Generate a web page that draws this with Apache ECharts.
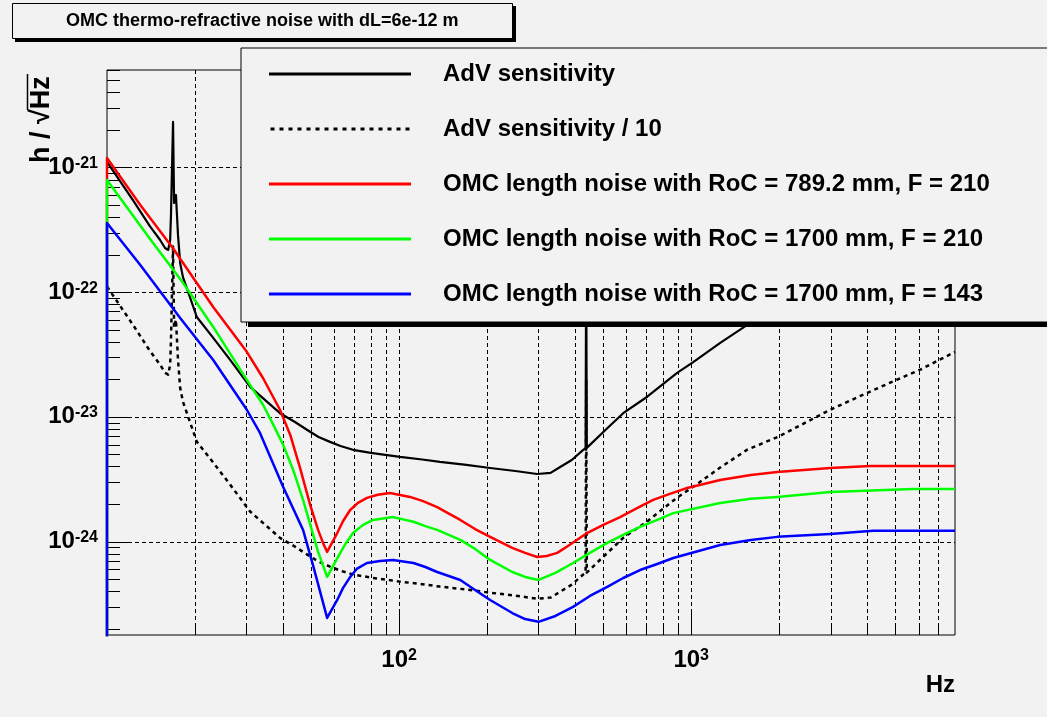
<!DOCTYPE html>
<html><head><meta charset="utf-8">
<script src="https://cdn.jsdelivr.net/npm/echarts@6/dist/echarts.min.js"></script>
<style>html,body{margin:0;padding:0;background:#f2f2f2;} #c{width:1047px;height:717px;}</style>
</head><body><div id="c"></div>
<script>
const FONT = '"Liberation Sans", Arial, Helvetica, sans-serif';
const X_MIN = 10, X_MAX = 8000;
const Y_MIN = 1.78e-25, Y_MAX = 6.05e-21;

// AdV sensitivity (solid) and AdV sensitivity / 10 (dotted)
const sensFreq = [10, 12.3, 14.0, 15.2, 15.8, 16.2, 16.45, 16.56, 16.68, 16.83, 16.97, 17.22, 17.5, 17.8, 18.2, 20.3, 23.1, 26.4, 30.9, 39.1, 44, 48.5, 53, 58.0, 63, 69.5, 80, 100.7, 120, 138, 170, 205, 250, 297, 330, 356, 390, 427, 435, 437, 439, 516, 585, 707, 895, 1016, 1257, 1556, 1987, 2992, 4008, 5073, 6082, 8000];
const sensVals = [1.11e-21, 5.43e-22, 3.40e-22, 2.62e-22, 2.26e-22, 2.18e-22, 2.62e-22, 4.16e-22, 4.16e-22, 2.32e-21, 5.2e-22, 6.02e-22, 2.88e-22, 1.71e-22, 1.32e-22, 6.32e-23, 4.30e-23, 2.86e-23, 1.74e-23, 1.07e-23, 9.1e-24, 7.85e-24, 6.9e-24, 6.30e-24, 5.84e-24, 5.44e-24, 5.14e-24, 4.77e-24, 4.55e-24, 4.35e-24, 4.12e-24, 3.89e-24, 3.68e-24, 3.48e-24, 3.55e-24, 3.96e-24, 4.51e-24, 5.44e-24, 5.6e-24, 2.0e-22, 5.64e-24, 8.1e-24, 1.07e-23, 1.45e-23, 2.25e-23, 2.75e-23, 3.92e-23, 5.46e-23, 6.93e-23, 1.14e-22, 1.56e-22, 1.99e-22, 2.39e-22, 3.32e-22];
const sens10Vals = [1.11e-22, 5.43e-23, 3.40e-23, 2.62e-23, 2.26e-23, 2.18e-23, 2.62e-23, 4.16e-23, 4.16e-23, 2.32e-22, 5.2e-23, 6.02e-23, 2.88e-23, 1.71e-23, 1.32e-23, 6.32e-24, 4.30e-24, 2.86e-24, 1.74e-24, 1.07e-24, 9.1e-25, 7.85e-25, 6.9e-25, 6.30e-25, 5.84e-25, 5.44e-25, 5.14e-25, 4.77e-25, 4.55e-25, 4.35e-25, 4.12e-25, 3.89e-25, 3.68e-25, 3.48e-25, 3.55e-25, 3.96e-25, 4.51e-25, 5.44e-25, 5.6e-25, 2.0e-23, 5.64e-25, 8.1e-25, 1.07e-24, 1.45e-24, 2.25e-24, 2.75e-24, 3.92e-24, 5.46e-24, 6.93e-24, 1.14e-23, 1.56e-23, 1.99e-23, 2.39e-23, 3.32e-23];

// OMC length noise, RoC = 789.2 mm, F = 210
const redFreq = [10, 10, 13, 16.8, 23.1, 30.1, 34.2, 39.1, 42.4, 45.8, 49.6, 52.8, 54.9, 56.7, 61.4, 64.3, 68, 72.3, 77.6, 84.5, 93.1, 109, 120.8, 135, 147, 162, 182, 205, 244, 270, 297, 320, 348, 383, 440, 500, 571, 655, 741, 845, 969, 1257, 1600, 1971, 2992, 4102, 8000];
const redVals = [1e-26, 1.19e-21, 5.0e-22, 2.26e-22, 7.61e-23, 3.32e-23, 2.05e-23, 1.14e-23, 7.16e-24, 3.89e-24, 1.97e-24, 1.24e-24, 9.75e-25, 8.26e-25, 1.17e-24, 1.46e-24, 1.79e-24, 2.04e-24, 2.24e-24, 2.37e-24, 2.45e-24, 2.28e-24, 2.11e-24, 1.89e-24, 1.69e-24, 1.49e-24, 1.26e-24, 1.09e-24, 8.89e-25, 8.11e-25, 7.52e-25, 7.66e-25, 8.11e-25, 9.39e-25, 1.17e-24, 1.36e-24, 1.57e-24, 1.86e-24, 2.16e-24, 2.41e-24, 2.69e-24, 3.12e-24, 3.42e-24, 3.61e-24, 3.89e-24, 4.04e-24, 4.04e-24];

// OMC length noise, RoC = 1700 mm, F = 210
const greenFreq = [10, 10, 14.0, 18.2, 23.1, 30.1, 34.2, 37.0, 40.1, 43.4, 46.9, 49.6, 52.8, 56.7, 61.8, 65.5, 69.5, 75.3, 81.4, 95.3, 112, 123, 135, 162, 182, 205, 244, 270, 300, 343, 394, 450, 516, 585, 668, 765, 868, 1257, 1600, 1971, 2992, 5754, 8000];
const greenVals = [1e-26, 7.94e-22, 2.69e-22, 1.19e-22, 5.26e-23, 1.98e-23, 1.25e-23, 8.75e-24, 5.96e-24, 3.75e-24, 2.16e-24, 1.38e-24, 8.26e-25, 5.20e-25, 7.52e-25, 9.57e-25, 1.17e-24, 1.36e-24, 1.49e-24, 1.57e-24, 1.44e-24, 1.33e-24, 1.24e-24, 1.03e-24, 8.73e-25, 7.12e-25, 5.70e-25, 5.20e-25, 4.92e-25, 5.60e-25, 6.73e-25, 8.11e-25, 9.75e-25, 1.13e-24, 1.31e-24, 1.49e-24, 1.69e-24, 2.04e-24, 2.20e-24, 2.28e-24, 2.50e-24, 2.64e-24, 2.64e-24];

// OMC length noise, RoC = 1700 mm, F = 143
const blueFreq = [10, 10, 13.0, 17.8, 23.1, 30.1, 33.4, 40.1, 46.9, 50.7, 56.7, 61.4, 64.3, 68.0, 71.6, 77.6, 86, 95.3, 112, 123, 135, 162, 182, 205, 244, 270, 300, 343, 394, 450, 516, 585, 668, 765, 868, 1257, 1600, 1971, 2992, 4198, 8000];
const blueVals = [1e-26, 3.59e-22, 1.65e-22, 6.21e-23, 2.86e-23, 1.14e-23, 7.43e-24, 2.74e-24, 1.24e-24, 6.49e-25, 2.44e-25, 3.40e-25, 4.25e-25, 5.20e-25, 6.03e-25, 6.73e-25, 6.98e-25, 7.12e-25, 6.73e-25, 6.25e-25, 5.70e-25, 4.92e-25, 4.09e-25, 3.40e-25, 2.67e-25, 2.39e-25, 2.27e-25, 2.53e-25, 2.99e-25, 3.66e-25, 4.33e-25, 5.10e-25, 5.91e-25, 6.61e-25, 7.38e-25, 9.39e-25, 1.03e-24, 1.09e-24, 1.15e-24, 1.22e-24, 1.22e-24];

// ticks and grid
const xGridValues = [20, 30, 40, 50, 60, 70, 80, 90, 100, 200, 300, 400, 500, 600, 700, 800, 900, 1000, 2000, 3000, 4000, 5000, 6000, 7000];
const yGridValues = [1e-24, 1e-23, 1e-22, 1e-21];
const xMajorTicks = [100, 1000];
const xMinorTicks = [20, 30, 40, 50, 60, 70, 80, 90, 200, 300, 400, 500, 600, 700, 800, 900, 2000, 3000, 4000, 5000, 6000, 7000];
const yMajorTicks = [1e-24, 1e-23, 1e-22, 1e-21];
const yMinorTicks = [2e-25, 3e-25, 4e-25, 5e-25, 6e-25, 7e-25, 8e-25, 9e-25, 2e-24, 3e-24, 4e-24, 5e-24, 6e-24, 7e-24, 8e-24, 9e-24, 2e-23, 3e-23, 4e-23, 5e-23, 6e-23, 7e-23, 8e-23, 9e-23, 2e-22, 3e-22, 4e-22, 5e-22, 6e-22, 7e-22, 8e-22, 9e-22, 2e-21, 3e-21, 4e-21, 5e-21, 6e-21];
const xLabelExps = [2, 3];
const yLabelExps = [-24, -23, -22, -21];

const names = ['AdV sensitivity', 'AdV sensitivity / 10', 'OMC length noise with RoC = 789.2 mm, F = 210', 'OMC length noise with RoC = 1700 mm, F = 210', 'OMC length noise with RoC = 1700 mm, F = 143'];

function pairs(f, v) { return f.map((x, i) => [x, v[i]]); }
function decLabel(v, allowed) {
  const l = Math.log10(v); const e = Math.round(l);
  if (Math.abs(l - e) > 1e-6 || allowed.indexOf(e) < 0) return '';
  return '{b|10}{s|' + e + '}';
}
const rich = {
  b: { fontFamily: FONT, fontSize: 24, fontWeight: 'bold', color: '#000', lineHeight: 24, padding: [6, 0, 0, 0], verticalAlign: 'bottom' },
  s: { fontFamily: FONT, fontSize: 16, fontWeight: 'bold', color: '#000', lineHeight: 16, verticalAlign: 'top' }
};
function dashIcon(total, dash, gap, h) {
  let p = '';
  for (let x = 0; x + dash <= total; x += dash + gap) p += 'M' + x + ',0h' + dash + 'v' + h + 'h-' + dash + 'z';
  return 'path://' + p;
}

function vLine(dash, len) {
  return function (params, api) {
    const cs = params.coordSys;
    const x = Math.round(api.coord([api.value(0), api.value(1)])[0]) + 0.5;
    const y2 = cs.y + cs.height;
    const y1 = len ? y2 - len : cs.y;
    return { type: 'line', silent: true, shape: { x1: x, y1: y1, x2: x, y2: y2 }, style: { stroke: '#000', lineWidth: 1, lineDash: dash } };
  };
}
function hLine(dash, len) {
  return function (params, api) {
    const cs = params.coordSys;
    const y = Math.round(api.coord([api.value(0), api.value(1)])[1]) + 0.5;
    const x1 = cs.x;
    const x2 = len ? cs.x + len : cs.x + cs.width;
    return { type: 'line', silent: true, shape: { x1: x1, y1: y, x2: x2, y2: y }, style: { stroke: '#000', lineWidth: 1, lineDash: dash } };
  };
}
function custom(name, data, fn) {
  return { name: name, type: 'custom', coordinateSystem: 'cartesian2d', data: data, renderItem: fn, z: 1, silent: true, animation: false };
}
function lineSeries(name, data, color, width, type) {
  return { name: name, type: 'line', data: data, symbol: 'none', showSymbol: false, z: 2,
    lineStyle: { color: color, width: width, type: type || 'solid', join: 'round' }, itemStyle: { color: color } };
}

const chart = echarts.init(document.getElementById('c'), null, { renderer: 'canvas' });
chart.setOption({
  backgroundColor: '#f2f2f2',
  animation: false,
  title: {
    text: 'OMC thermo-refractive noise with dL=6e-12 m',
    left: 12, top: 3, padding: [8, 54, 8, 54],
    backgroundColor: '#f2f2f2', borderColor: '#000', borderWidth: 1,
    textStyle: { fontFamily: FONT, fontSize: 18, fontWeight: 'bold', color: '#000', lineHeight: 20 }
  },
  legend: {
    data: names.map((n, i) => ({ name: n, icon: i === 1 ? dashIcon(142, 4, 5, 3) : 'rect' })),
    orient: 'vertical', left: 241, top: 48,
    itemWidth: 142, itemHeight: 3, itemGap: 31,
    padding: [14, 120, 16, 28],
    backgroundColor: '#f2f2f2', borderColor: '#000', borderWidth: 1,
    selectedMode: false,
    textStyle: { fontFamily: FONT, fontSize: 24, fontWeight: 'bold', color: '#000', lineHeight: 24, padding: [0, 0, 0, 27] }
  },
  grid: { left: 107, right: 92, top: 70, bottom: 82, show: true, borderColor: '#000', borderWidth: 1,
    backgroundColor: 'transparent', containLabel: false, outerBoundsMode: 'none' },
  xAxis: {
    type: 'log', logBase: 10, min: X_MIN, max: X_MAX,
    axisLine: { show: false }, axisTick: { show: false }, splitLine: { show: false },
    axisLabel: { margin: 13, formatter: v => decLabel(v, xLabelExps), rich: rich },
    name: 'Hz', nameLocation: 'end', nameGap: 0,
    nameTextStyle: { fontFamily: FONT, fontSize: 24, fontWeight: 'bold', color: '#000', align: 'right', verticalAlign: 'top', padding: [38, 0, 0, 0] }
  },
  yAxis: {
    type: 'log', logBase: 10, min: Y_MIN, max: Y_MAX,
    axisLine: { show: false }, axisTick: { show: false }, splitLine: { show: false },
    axisLabel: { margin: 9, formatter: v => decLabel(v, yLabelExps), rich: rich }
  },
  graphic: [
    { type: 'rect', z: 3, silent: true, shape: { x: 248, y: 53, width: 900, height: 274 }, style: { fill: '#000' } },
    { type: 'rect', z: 5, silent: true, shape: { x: 15, y: 6, width: 501, height: 36 }, style: { fill: '#000' } },
    { type: 'text', x: 42, y: 163, rotation: Math.PI / 2, silent: true,
      style: { text: 'h / \u221AHz', fontFamily: FONT, fontSize: 27, fontWeight: 'bold', fill: '#000', align: 'left', verticalAlign: 'middle' } },
    { type: 'line', silent: true, shape: { x1: 27.5, y1: 74, x2: 27.5, y2: 110 }, style: { stroke: '#000', lineWidth: 1.5 } }
  ],
  series: [
    custom('xgrid', xGridValues.map(v => [v, Y_MIN]), vLine([4, 3], 0)),
    custom('ygrid', yGridValues.map(v => [X_MIN, v]), hLine([4, 3], 0)),
    custom('xmaj', xMajorTicks.map(v => [v, Y_MIN]), vLine(null, 22)),
    custom('xmin', xMinorTicks.map(v => [v, Y_MIN]), vLine(null, 12)),
    custom('ymaj', yMajorTicks.map(v => [X_MIN, v]), hLine(null, 22)),
    custom('ymin', yMinorTicks.map(v => [X_MIN, v]), hLine(null, 13)),
    lineSeries(names[0], pairs(sensFreq, sensVals), '#000', 2.2),
    lineSeries(names[1], pairs(sensFreq, sens10Vals), '#000', 2.5, [4, 4]),
    lineSeries(names[2], pairs(redFreq, redVals), '#ff0000', 2.5),
    lineSeries(names[3], pairs(greenFreq, greenVals), '#00ff00', 2.5),
    lineSeries(names[4], pairs(blueFreq, blueVals), '#0000ff', 2.5)
  ]
});
</script></body></html>
